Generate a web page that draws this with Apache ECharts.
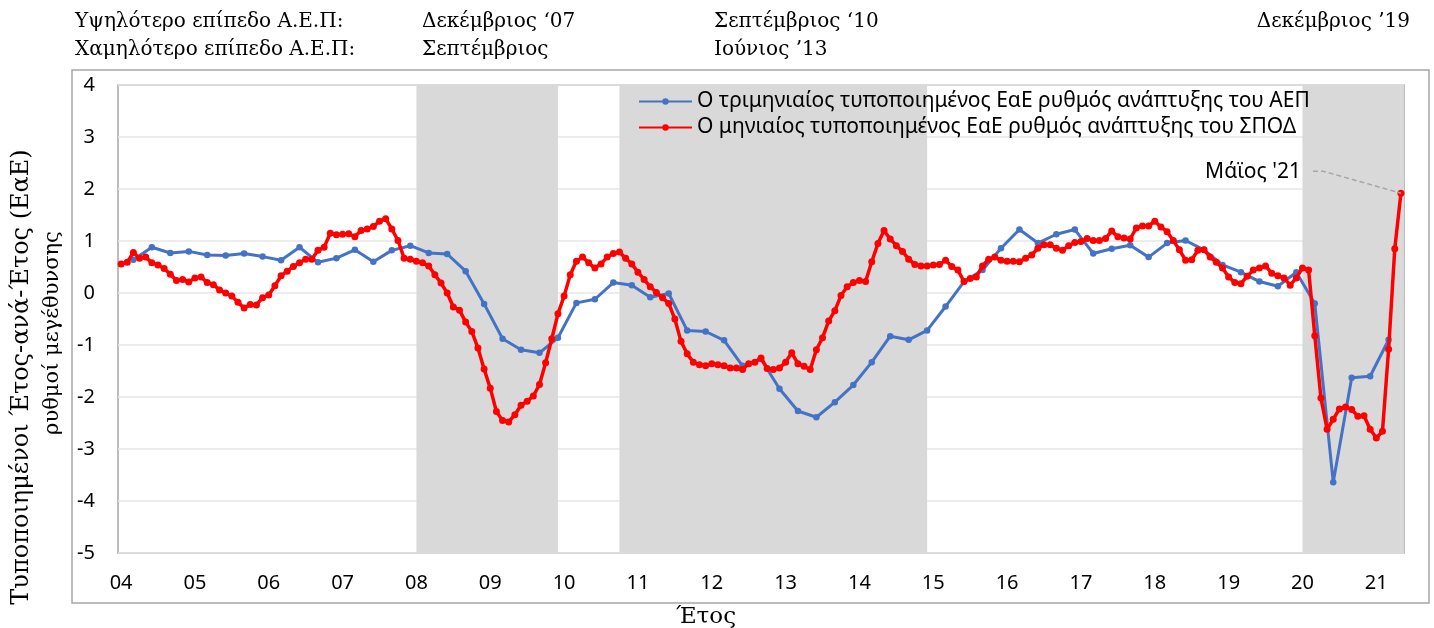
<!DOCTYPE html>
<html>
<head>
<meta charset="utf-8">
<script src="https://cdn.jsdelivr.net/npm/echarts@6/dist/echarts.min.js"></script>
<style>
  html, body { margin: 0; padding: 0; background: #fff; }
  #chart { width: 1434px; height: 628px; }
</style>
</head>
<body>
<div id="chart"></div>
<script>
  // year labels for the x axis (January of each year), last year runs to May
  const yearLabels = ["04", "05", "06", "07", "08", "09", "10", "11", "12", "13", "14", "15", "16", "17", "18", "19", "20", "21"];
  const monthsInLastYear = 5;

  // monthly standardised y-o-y growth of the composite indicator (Jan 2004 - May 2021)
  const monthlySeries = [
    0.56, 0.59, 0.78, 0.67, 0.69, 0.58, 0.54, 0.47, 0.36, 0.24, 0.26, 0.21,
    0.29, 0.31, 0.20, 0.16, 0.06, 0.00, -0.06, -0.18, -0.29, -0.22, -0.23, -0.09,
    -0.04, 0.14, 0.33, 0.42, 0.51, 0.58, 0.65, 0.65, 0.82, 0.88, 1.15, 1.12,
    1.13, 1.14, 1.08, 1.20, 1.23, 1.28, 1.38, 1.43, 1.23, 1.01, 0.67, 0.65,
    0.61, 0.58, 0.52, 0.35, 0.19, 0.00, -0.27, -0.33, -0.56, -0.74, -1.06, -1.46,
    -1.83, -2.28, -2.45, -2.48, -2.34, -2.16, -2.08, -1.98, -1.76, -1.34, -0.88, -0.40,
    -0.06, 0.35, 0.61, 0.69, 0.58, 0.48, 0.56, 0.69, 0.76, 0.79, 0.67, 0.56,
    0.40, 0.26, 0.12, 0.01, -0.09, -0.20, -0.50, -0.93, -1.17, -1.33, -1.38, -1.40,
    -1.36, -1.38, -1.40, -1.44, -1.44, -1.47, -1.36, -1.33, -1.25, -1.45, -1.47, -1.44,
    -1.33, -1.15, -1.36, -1.41, -1.47, -1.09, -0.86, -0.54, -0.34, -0.05, 0.12, 0.20,
    0.24, 0.22, 0.60, 0.95, 1.20, 1.04, 0.91, 0.80, 0.65, 0.55, 0.52, 0.52,
    0.54, 0.55, 0.63, 0.51, 0.44, 0.22, 0.28, 0.31, 0.52, 0.65, 0.69, 0.63,
    0.61, 0.61, 0.60, 0.67, 0.73, 0.86, 0.93, 0.93, 0.86, 0.82, 0.91, 0.97,
    0.99, 1.05, 1.01, 1.01, 1.05, 1.19, 1.08, 1.06, 1.04, 1.25, 1.29, 1.29,
    1.38, 1.27, 1.18, 1.01, 0.83, 0.63, 0.64, 0.82, 0.83, 0.69, 0.59, 0.48,
    0.31, 0.20, 0.18, 0.32, 0.44, 0.48, 0.52, 0.38, 0.33, 0.29, 0.15, 0.29,
    0.48, 0.44, -0.82, -2.02, -2.62, -2.43, -2.23, -2.19, -2.24, -2.37, -2.36, -2.62,
    -2.79, -2.66, -1.08, 0.85, 1.92
  ];

  // quarterly standardised y-o-y GDP growth (2004Q1 - 2021Q1), plotted at quarter-end month
  const quarterlySeries = [
    0.64, 0.88, 0.77, 0.80,
    0.73, 0.72, 0.76, 0.70,
    0.63, 0.88, 0.59, 0.67,
    0.83, 0.60, 0.82, 0.91,
    0.77, 0.75, 0.42, -0.21,
    -0.88, -1.09, -1.15, -0.86,
    -0.19, -0.12, 0.20, 0.15,
    -0.08, -0.01, -0.72, -0.74,
    -0.91, -1.40, -1.27, -1.84,
    -2.27, -2.39, -2.10, -1.77,
    -1.33, -0.83, -0.90, -0.72,
    -0.26, 0.22, 0.44, 0.86,
    1.22, 0.96, 1.13, 1.22,
    0.76, 0.85, 0.92, 0.69,
    0.96, 1.01, 0.83, 0.54,
    0.40, 0.22, 0.13, 0.40,
    -0.20, -3.64, -1.63, -1.60,
    -0.90
  ];

  // shaded periods [from, to] as year/month categories
  const shadedPeriods = [["08/01", "09/12"], ["10/10", "14/12"], ["20/01", "21/05"]];

  const seriesNames = [
    "Ο τριμηνιαίος τυποποιημένος ΕαΕ ρυθμός ανάπτυξης του ΑΕΠ",
    "Ο μηνιαίος τυποποιημένος ΕαΕ ρυθμός ανάπτυξης του ΣΠΟΔ"
  ];

  const headerRows = [
    ["Υψηλότερο επίπεδο Α.Ε.Π:", "Δεκέμβριος ‘07", "Σεπτέμβριος ‘10", "Δεκέμβριος ’19"],
    ["Χαμηλότερο επίπεδο Α.Ε.Π:", "Σεπτέμβριος", "Ιούνιος ’13", ""]
  ];

  const categories = [];
  yearLabels.forEach(function (yr, k) {
    const n = k === yearLabels.length - 1 ? monthsInLastYear : 12;
    for (let m = 1; m <= n; m += 1) {
      categories.push(yr + "/" + (m < 10 ? "0" + m : m));
    }
  });

  const quarterlyData = categories.map(function (c, i) {
    return i % 3 === 2 ? quarterlySeries[(i - 2) / 3] : null;
  });

  const sansFont = "Noto Sans";
  const serifFont = "DejaVu Serif";
  const gridBox = { left: 118, right: 30, top: 85, bottom: 75 };

  const chart = echarts.init(document.getElementById("chart"));

  chart.setOption({
    animation: false,
    backgroundColor: "#fff",
    grid: Object.assign({
      show: true, borderColor: "#a6a6a6", borderWidth: 1.5, backgroundColor: "transparent"
    }, gridBox),
    legend: {
      orient: "vertical",
      left: 633,
      top: 86,
      itemWidth: 53,
      itemHeight: 8,
      itemGap: 5,
      textStyle: { fontFamily: sansFont, fontSize: 21, color: "#000" },
      data: seriesNames
    },
    xAxis: {
      type: "category",
      data: categories,
      boundaryGap: true,
      axisLine: { show: false },
      axisTick: { show: false },
      splitLine: { show: false },
      axisLabel: {
        interval: function (index) { return index % 12 === 0; },
        formatter: function (value) { return value.split("/")[0]; },
        fontFamily: sansFont,
        fontSize: 20,
        color: "#000",
        margin: 20
      }
    },
    yAxis: {
      type: "value",
      min: -5,
      max: 4,
      interval: 1,
      axisLine: { show: false },
      axisTick: { show: false },
      splitLine: { lineStyle: { color: "#e6e6e6", width: 1.5 } },
      axisLabel: { fontFamily: sansFont, fontSize: 20, color: "#000", margin: 23 }
    },
    series: [
      {
        name: "shade",
        type: "line",
        data: [],
        z: 1,
        markArea: {
          silent: true,
          itemStyle: { color: "#d9d9d9" },
          data: shadedPeriods.map(function (p) { return [{ xAxis: p[0] }, { xAxis: p[1] }]; })
        }
      },
      {
        name: seriesNames[0],
        type: "line",
        data: quarterlyData,
        connectNulls: true,
        z: 3,
        symbol: "circle",
        symbolSize: 6.5,
        showAllSymbol: true,
        lineStyle: { color: "#4472c4", width: 3 },
        itemStyle: { color: "#4472c4" }
      },
      {
        name: seriesNames[1],
        type: "line",
        data: monthlySeries,
        z: 4,
        symbol: "circle",
        symbolSize: 7,
        showAllSymbol: true,
        lineStyle: { color: "#ff0000", width: 3.5 },
        itemStyle: { color: "#ff0000" }
      }
    ]
  });

  // texts, frame and the "Μάϊος '21" callout
  const lastIdx = monthlySeries.length - 1;
  const pt = chart.convertToPixel({ seriesIndex: 2 }, [categories[lastIdx], monthlySeries[lastIdx]]);
  const plotRight = 1434 - gridBox.right;
  const plotBottom = 628 - gridBox.bottom;

  const graphics = [];
  const colX = [75, 422, 714];
  headerRows.forEach(function (row, r) {
    const y = r === 0 ? 22 : 50;
    colX.forEach(function (x, c) {
      graphics.push({
        type: "text", x: x, y: y,
        style: { text: row[c], font: "20px " + serifFont, fill: "#000", textVerticalAlign: "middle" }
      });
    });
    if (row[3]) {
      graphics.push({
        type: "text", x: 1410, y: y,
        style: { text: row[3], font: "20px " + serifFont, fill: "#000", textAlign: "right", textVerticalAlign: "middle" }
      });
    }
  });

  graphics.push(
    {
      type: "rect", z: -10, silent: true,
      shape: { x: 72, y: 70, width: 1357, height: 533 },
      style: { fill: "none", stroke: "#a6a6a6", lineWidth: 1.5 }
    },
    {
      // shading continues to the plot edge past the last month's centre
      type: "rect", z: 1, silent: true,
      shape: { x: pt[0], y: gridBox.top, width: plotRight - pt[0], height: plotBottom - gridBox.top },
      style: { fill: "#d9d9d9" }
    },
    {
      type: "text", x: 22, y: 377, rotation: Math.PI / 2,
      style: { text: "Τυποποιημένοι Έτος-ανά-Έτος (ΕαΕ)", font: "24px " + serifFont, fill: "#000", textAlign: "center", textVerticalAlign: "middle" }
    },
    {
      type: "text", x: 53, y: 333, rotation: Math.PI / 2,
      style: { text: "ρυθμοί μεγέθυνσης", font: "21px " + serifFont, fill: "#000", textAlign: "center", textVerticalAlign: "middle" }
    },
    {
      type: "text", x: 706, y: 617,
      style: { text: "Έτος", font: "23px " + serifFont, fill: "#000", textAlign: "center", textVerticalAlign: "middle" }
    },
    {
      type: "text", x: pt[0] - 100, y: pt[1] - 21,
      style: { text: "Μάϊος '21", font: "21px " + sansFont, fill: "#000", textAlign: "right", textVerticalAlign: "middle" }
    },
    {
      type: "polyline", z: 10, silent: true,
      shape: { points: [[pt[0] - 88, pt[1] - 22], [pt[0] - 78, pt[1] - 22], [pt[0], pt[1]]] },
      style: { stroke: "#a6a6a6", lineWidth: 1.5, lineDash: [5, 3], fill: "none" }
    }
  );

  chart.setOption({ graphic: graphics });
</script>
</body>
</html>
